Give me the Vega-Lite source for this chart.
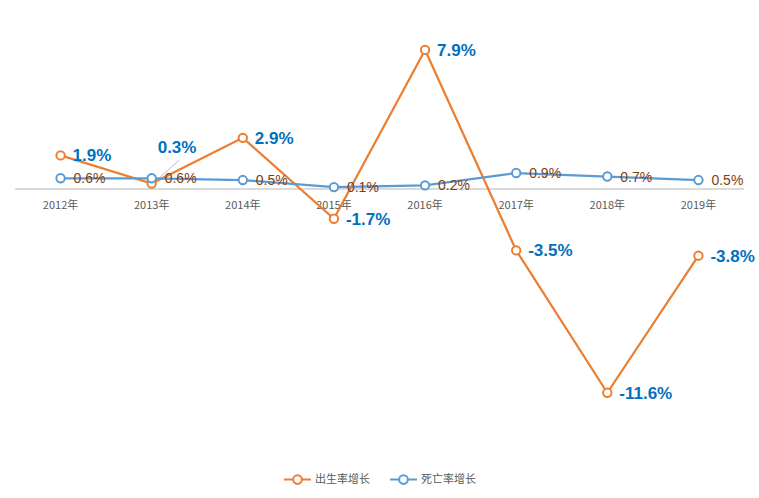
{
  "$schema": "https://vega.github.io/schema/vega-lite/v6.json",
  "width": 729,
  "height": 422,
  "autosize": "none",
  "padding": {"left": 15, "top": 13, "right": 15, "bottom": 63},
  "background": "white",
  "config": {"view": {"stroke": null}, "font": "Liberation Sans"},
  "data": {
    "values": [
      {"year": "2012年", "series": "出生率增长", "value": 1.9},
      {"year": "2013年", "series": "出生率增长", "value": 0.3},
      {"year": "2014年", "series": "出生率增长", "value": 2.9},
      {"year": "2015年", "series": "出生率增长", "value": -1.7},
      {"year": "2016年", "series": "出生率增长", "value": 7.9},
      {"year": "2017年", "series": "出生率增长", "value": -3.5},
      {"year": "2018年", "series": "出生率增长", "value": -11.6},
      {"year": "2019年", "series": "出生率增长", "value": -3.8},
      {"year": "2012年", "series": "死亡率增长", "value": 0.6},
      {"year": "2013年", "series": "死亡率增长", "value": 0.6},
      {"year": "2014年", "series": "死亡率增长", "value": 0.5},
      {"year": "2015年", "series": "死亡率增长", "value": 0.1},
      {"year": "2016年", "series": "死亡率增长", "value": 0.2},
      {"year": "2017年", "series": "死亡率增长", "value": 0.9},
      {"year": "2018年", "series": "死亡率增长", "value": 0.7},
      {"year": "2019年", "series": "死亡率增长", "value": 0.5}
    ]
  },
  "transform": [{"calculate": "(datum.value < 0 ? '-' : '') + format(abs(datum.value), '.1f') + '%'", "as": "label"}],
  "encoding": {
    "x": {"field": "year", "type": "ordinal", "scale": {"type": "point", "padding": 0.5}, "axis": null},
    "y": {"field": "value", "type": "quantitative", "scale": {"domain": [-14, 10], "nice": false, "zero": false}, "axis": null}
  },
  "layer": [
    {
      "mark": {"type": "rule", "color": "#D9D9D9", "strokeWidth": 1},
      "encoding": {"x": null, "y": {"datum": 0, "type": "quantitative"}}
    },
    {
      "transform": [{"filter": "datum.series === '出生率增长'"}],
      "mark": {"type": "text", "dy": 17, "color": "#595959", "fontSize": 11, "font": "Noto Sans CJK SC"},
      "encoding": {"y": {"datum": 0, "type": "quantitative"}, "text": {"field": "year"}}
    },
    {
      "transform": [{"filter": "datum.year === '2013年' && datum.series === '出生率增长'"}],
      "mark": {"type": "rule", "color": "#BFBFBF", "strokeWidth": 1, "xOffset": 6, "x2Offset": 28},
      "encoding": {
        "x2": {"field": "year"},
        "y": {"datum": 0.55, "type": "quantitative"},
        "y2": {"datum": 1.65}
      }
    },
    {
      "mark": {"type": "line", "strokeWidth": 2.25, "point": {"filled": false, "fill": "white", "size": 70, "strokeWidth": 2}},
      "encoding": {
        "color": {
          "field": "series", "type": "nominal",
          "scale": {"domain": ["出生率增长", "死亡率增长"], "range": ["#ED7D31", "#5B9BD5"]},
          "legend": {
            "title": null, "orient": "none", "direction": "horizontal", "legendX": 268, "legendY": 452,
            "symbolType": "M-1,0L-0.32,0M0.32,0L1,0M-0.32,0A0.32,0.32 0 1,1 0.32,0A0.32,0.32 0 1,1 -0.32,0",
            "symbolSize": 729, "symbolStrokeWidth": 2, "symbolFillColor": "white",
            "labelColor": "#595959", "labelFontSize": 11, "labelFont": "Noto Sans CJK SC",
            "columnPadding": 16, "labelOffset": 3
          }
        }
      }
    },
    {
      "transform": [{"filter": "datum.series === '出生率增长' && datum.year !== '2013年'"}],
      "mark": {"type": "text", "align": "left", "baseline": "middle", "dx": 12, "dy": 1, "fontSize": 17, "fontWeight": "bold", "color": "#0070C0"},
      "encoding": {"text": {"field": "label"}}
    },
    {
      "transform": [{"filter": "datum.series === '出生率增长' && datum.year === '2013年'"}],
      "mark": {"type": "text", "align": "left", "baseline": "middle", "dx": 6, "dy": -36, "fontSize": 17, "fontWeight": "bold", "color": "#0070C0"},
      "encoding": {"text": {"field": "label"}}
    },
    {
      "transform": [{"filter": "datum.series === '死亡率增长'"}],
      "mark": {"type": "text", "align": "left", "baseline": "middle", "dx": 13, "dy": 1, "fontSize": 14, "color": "#843C0C"},
      "encoding": {"text": {"field": "label"}}
    }
  ]
}
